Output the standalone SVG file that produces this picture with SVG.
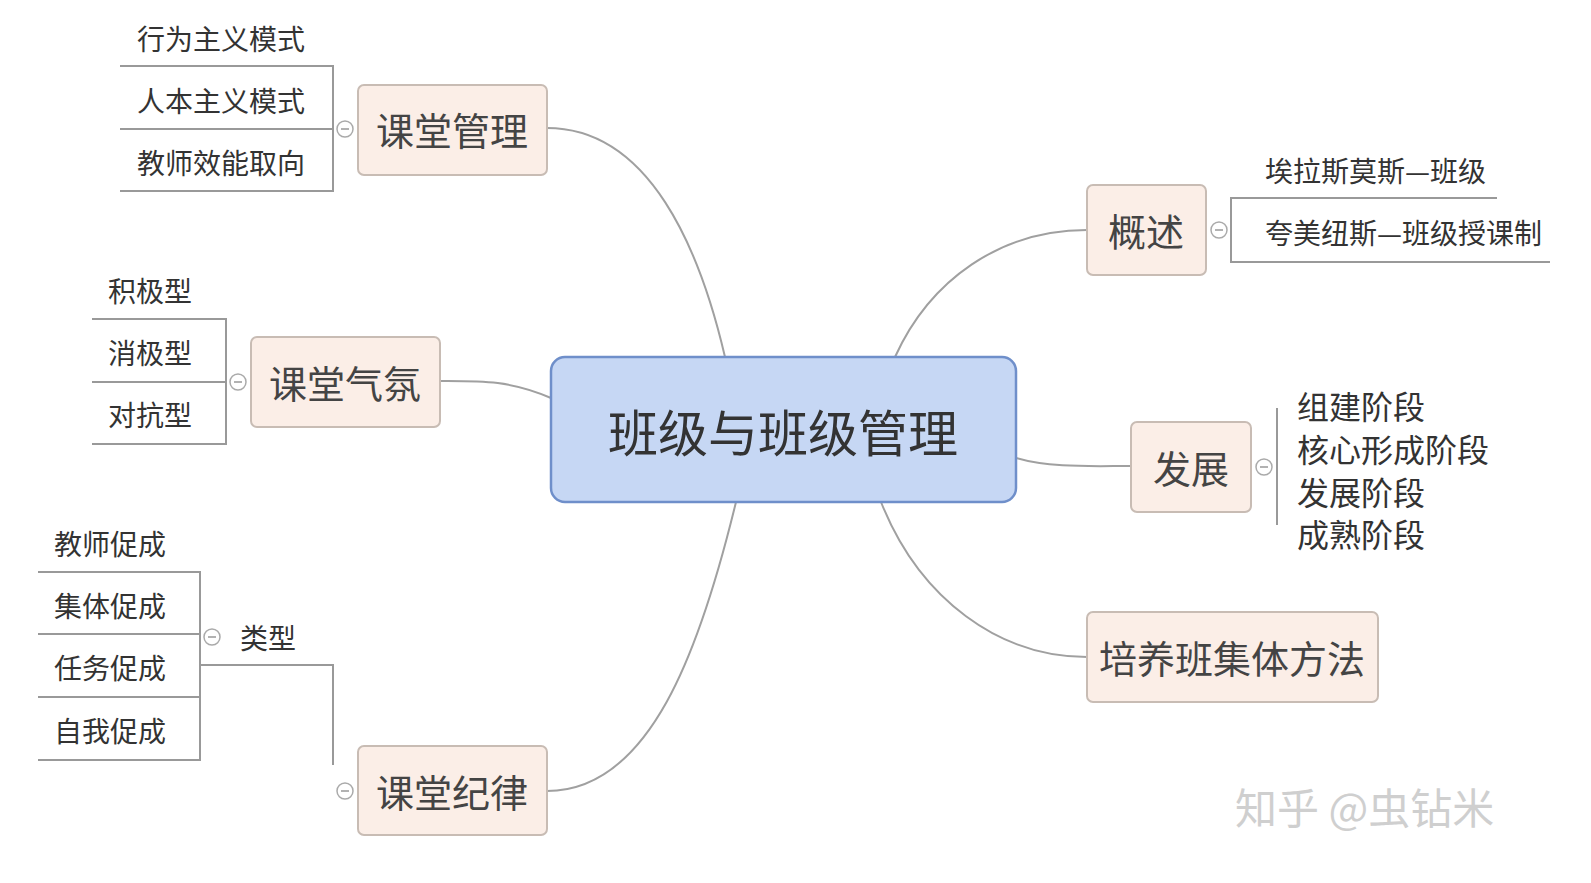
<svg xmlns="http://www.w3.org/2000/svg" width="1591" height="883" viewBox="0 0 1591 883">
<style>
text{font-family:"Noto Sans CJK SC","Noto Sans",sans-serif;fill:#333;dominant-baseline:central}
.sub rect{fill:#fbeee7;stroke:#c8bcb4;stroke-width:2}
.sub text{font-size:38px;text-anchor:middle;fill:#444}
.leaf{font-size:28px}
.stg{font-size:32px}
.c{fill:#fff;stroke:#aaa;stroke-width:1.5}
.m{stroke:#999;stroke-width:1.5}
.ln{fill:none;stroke:#999;stroke-width:2}
.conn path{fill:none;stroke:#a0a0a0;stroke-width:2}
</style>
<defs><g id="col"><circle class="c" r="8"/><path class="m" d="M-4,0H4"/></g></defs>
<rect width="1591" height="883" fill="#fff"/>
<g class="conn" id="connectors">
<path d="M725,357 C700,250 650,128 547,128"/>
<path d="M551,398 C510,380 480,381 440,381"/>
<path d="M736,502 C700,650 650,791 547,791"/>
<path d="M895,357 C930,280 1000,230 1087,230"/>
<path d="M1016,458 C1050,468 1090,466 1131,466"/>
<path d="M881,502 C920,600 1000,657 1087,657"/>
</g>
<g id="center"><rect x="551" y="357" width="465" height="145" rx="14" fill="#c6d7f4" stroke="#6f8fca" stroke-width="2.5"/><text x="783" y="430" font-size="50" text-anchor="middle">班级与班级管理</text></g>
<g id="n1" class="sub"><rect x="358" y="85" width="189" height="90" rx="6"/><text x="452" y="128">课堂管理</text></g>
<g id="n1l"><path class="ln" d="M120,66H333V191H120M120,129H333"/><use href="#col" x="345" y="129"/>
<text class="leaf" x="137" y="38">行为主义模式</text><text class="leaf" x="137" y="100">人本主义模式</text><text class="leaf" x="137" y="162">教师效能取向</text></g>
<g id="n2" class="sub"><rect x="251" y="337" width="189" height="90" rx="6"/><text x="345" y="381">课堂气氛</text></g>
<g id="n2l"><path class="ln" d="M92,319H226V444H92M92,382H226"/><use href="#col" x="238" y="382"/>
<text class="leaf" x="108" y="290">积极型</text><text class="leaf" x="108" y="352">消极型</text><text class="leaf" x="108" y="414">对抗型</text></g>
<g id="n3" class="sub"><rect x="358" y="746" width="189" height="89" rx="6"/><text x="452" y="790">课堂纪律</text></g>
<g id="n3l"><use href="#col" x="345" y="791"/><path class="ln" d="M333,765V665H200"/>
<text class="leaf" x="240" y="637">类型</text><use href="#col" x="212" y="637"/>
<path class="ln" d="M38,572H200V760H38M38,634H200M38,697H200"/>
<text class="leaf" x="54" y="543">教师促成</text><text class="leaf" x="54" y="605">集体促成</text><text class="leaf" x="54" y="667">任务促成</text><text class="leaf" x="54" y="730">自我促成</text></g>
<g id="n4" class="sub"><rect x="1087" y="185" width="119" height="90" rx="6"/><text x="1146" y="229">概述</text></g>
<g id="n4l"><use href="#col" x="1219" y="230"/><path class="ln" d="M1497,198H1231V262H1550"/>
<text class="leaf" x="1265" y="170">埃拉斯莫斯—班级</text><text class="leaf" x="1265" y="232">夸美纽斯—班级授课制</text></g>
<g id="n5" class="sub"><rect x="1131" y="422" width="120" height="90" rx="6"/><text x="1191" y="466">发展</text></g>
<g id="n5l"><use href="#col" x="1264" y="467"/><path class="ln" d="M1277,408V525"/>
<text class="stg" x="1297" y="405">组建阶段</text><text class="stg" x="1297" y="448">核心形成阶段</text><text class="stg" x="1297" y="491">发展阶段</text><text class="stg" x="1297" y="533">成熟阶段</text></g>
<g id="n6" class="sub"><rect x="1087" y="612" width="291" height="90" rx="6"/><text x="1232" y="656">培养班集体方法</text></g>
<text x="1235" y="805" font-size="42" style="fill:#cfcfcf">知乎 @虫钻米</text>
</svg>
